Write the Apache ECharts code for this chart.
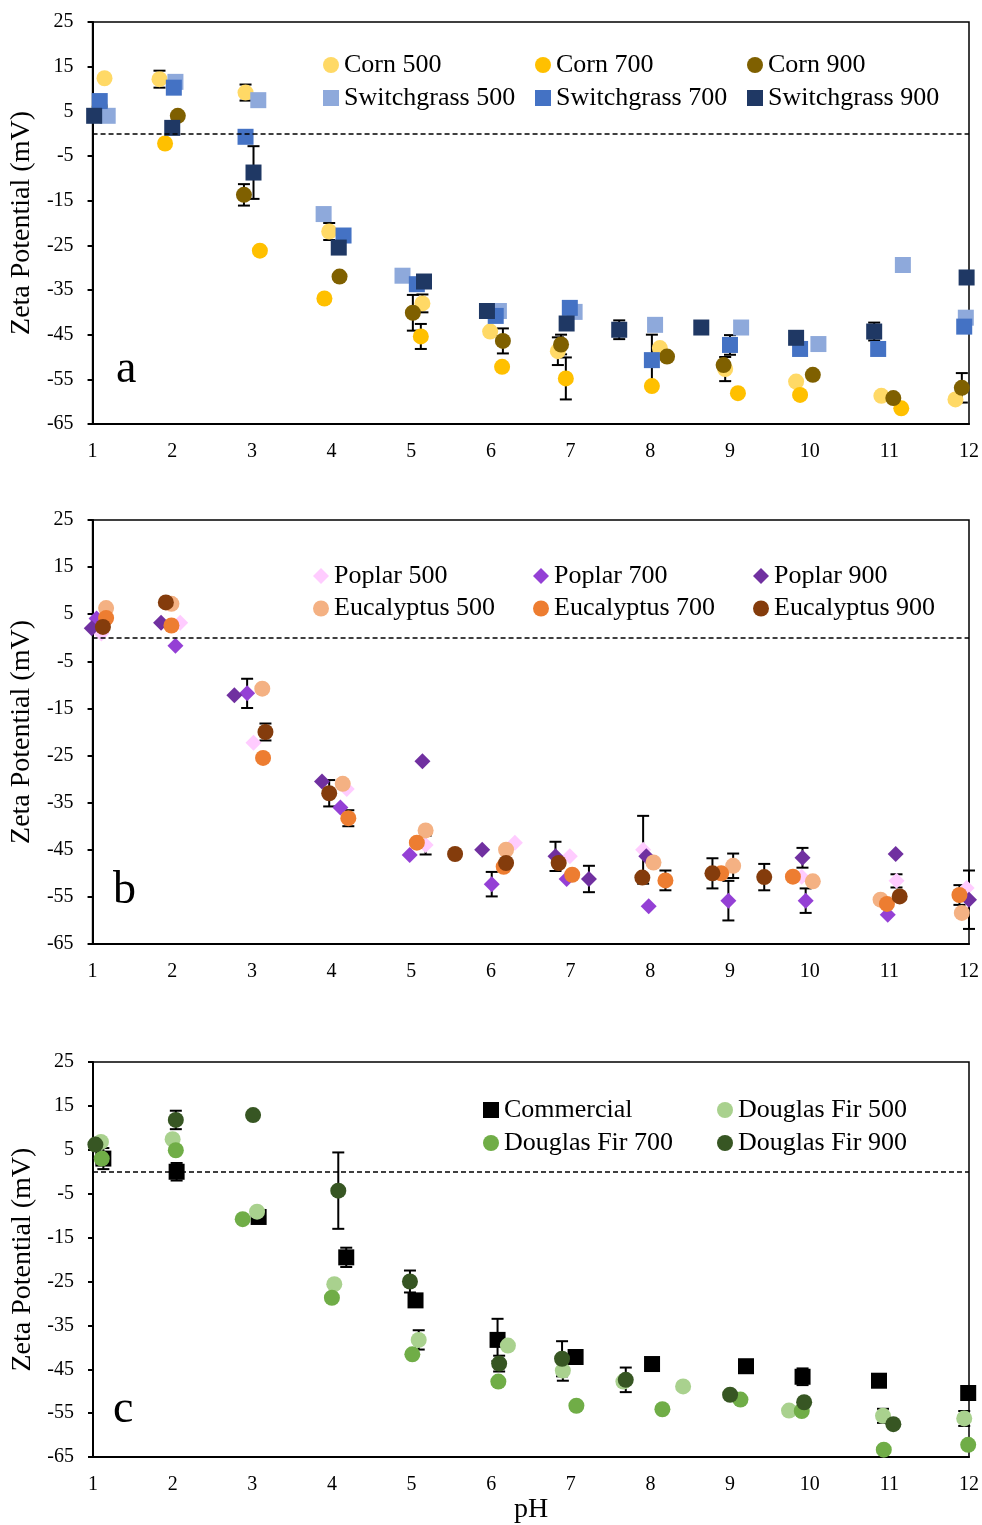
<!DOCTYPE html>
<html>
<head>
<meta charset="utf-8">
<script src="https://cdn.jsdelivr.net/npm/echarts@6/dist/echarts.min.js"></script>
<style>
  html, body { margin: 0; padding: 0; background: #fff; }
  #chart { width: 982px; height: 1525px; }
</style>
</head>
<body>
<div id="chart"></div>
<script>
/* Zeta potential vs pH — three stacked panels (a, b, c) */

// each point: [pH, zeta potential (mV), error (+/-, 0 = none)]
// panel a
const corn500 = [[1.15,12.4,0],[1.84,12.2,1.9],[2.92,9.2,1.8],[3.97,-21.9,1.9],[5.14,-38.0,2.0],[5.99,-44.3,0],[6.84,-48.7,3.1],[8.12,-48.0,0],[8.94,-52.7,2.7],[9.83,-55.5,0],[10.90,-58.7,0],[11.83,-59.5,0]];
const corn700 = [[1.91,-2.2,0],[3.10,-26.2,0],[3.91,-36.9,0],[5.12,-45.4,2.8],[6.14,-52.2,0.8],[6.94,-54.8,4.7],[8.02,-56.5,0],[9.10,-58.1,0],[9.88,-58.5,0],[11.15,-61.5,0]];
const corn900 = [[1.09,6.0,0],[2.07,4.0,0],[2.90,-13.7,2.4],[4.10,-32.0,0],[5.02,-40.1,4.0],[6.15,-46.4,2.8],[6.88,-47.2,2.2],[8.21,-49.9,0],[8.92,-51.8,0],[10.04,-54.0,0],[11.05,-59.2,0],[11.91,-56.9,3.3]];
const sw500 = [[1.19,4.0,0],[2.04,11.6,0],[3.08,7.5,0],[3.90,-18.0,0],[4.89,-31.8,0],[6.10,-39.7,0],[7.05,-39.9,0],[8.06,-42.8,0],[9.14,-43.4,0],[10.11,-47.1,0],[11.17,-29.4,0],[11.96,-41.2,0]];
const sw700 = [[1.09,7.3,0],[2.02,10.3,0],[2.92,-0.7,0],[4.15,-22.8,0],[5.07,-33.7,0],[6.06,-40.8,0],[6.99,-39.0,0],[8.02,-50.7,5.7],[9.00,-47.3,2.2],[9.88,-48.2,0],[10.86,-48.2,0],[11.94,-43.2,0]];
const sw900 = [[1.02,4.0,0],[2.00,1.3,0],[3.02,-8.7,5.9],[4.09,-25.5,0],[5.16,-33.1,0],[5.95,-39.7,0],[6.95,-42.5,0],[7.61,-43.9,2.1],[8.64,-43.4,0],[9.83,-45.7,0],[10.81,-44.3,2.0],[11.97,-32.2,0]];

// panel b
const poplar500 = [[1.11,0.9,0],[2.10,3.2,0],[3.02,-22.3,0],[4.19,-32.1,0],[5.18,-44.0,2.0],[6.30,-43.5,0],[6.99,-46.4,0],[7.91,-45.0,7.2],[9.90,-50.7,0],[11.09,-51.6,1.4],[11.97,-53.1,0]];
const poplar700 = [[1.05,4.1,0],[2.04,-1.7,0],[2.94,-11.8,3.1],[4.11,-36.0,0],[4.98,-46.1,0],[6.01,-52.3,2.6],[6.95,-51.2,0],[7.98,-57.0,0],[8.98,-55.8,4.2],[9.95,-55.8,2.6],[10.98,-58.8,0]];
const poplar900 = [[0.99,2.0,0],[1.86,3.2,0],[2.78,-12.2,0],[3.88,-30.5,0],[5.14,-26.2,0],[5.89,-45.0,0],[6.81,-46.4,3.1],[7.23,-51.2,2.8],[7.95,-46.4,0],[9.91,-46.7,2.1],[11.08,-45.9,0],[12.00,-55.6,6.2]];
const euc500 = [[1.17,6.3,0],[1.99,7.2,0],[3.13,-10.8,0.6],[4.14,-31.0,0],[5.18,-40.9,0],[6.19,-45.0,0],[8.04,-47.7,0],[9.04,-48.4,2.6],[10.04,-51.7,0],[10.89,-55.6,0],[11.91,-58.4,0]];
const euc700 = [[1.17,4.2,0],[1.99,2.6,0],[3.14,-25.5,0],[4.21,-38.3,1.7],[5.07,-43.5,0],[6.16,-48.6,0],[7.02,-50.3,0],[8.19,-51.5,2.1],[8.89,-50.0,0],[9.79,-50.7,0],[10.97,-56.5,0],[11.88,-54.6,2.1]];
const euc900 = [[1.13,2.3,0],[1.92,7.5,0],[3.17,-20.0,1.8],[3.97,-33.0,2.8],[5.55,-45.9,0],[6.19,-47.8,0],[6.85,-47.8,0],[7.90,-50.9,0],[8.78,-50.0,3.2],[9.43,-50.8,2.8],[11.13,-54.9,0]];

// panel c
const commercial = [[1.13,3.0,2.4],[2.05,0.0,2.0],[3.08,-10.3,0],[4.18,-19.5,2.2],[5.05,-29.3,0],[6.08,-38.3,4.8],[7.06,-42.2,0],[8.02,-43.8,0],[9.20,-44.3,0],[9.91,-46.7,1.9],[10.87,-47.6,0],[11.99,-50.4,1.0]];
const fir500 = [[1.10,6.8,0],[2.00,7.4,0],[3.06,-9.1,0],[4.03,-25.6,0],[5.09,-38.3,2.2],[6.21,-39.6,0],[6.90,-45.3,2.3],[7.66,-47.8,0],[8.41,-48.9,0],[9.74,-54.4,0],[10.92,-55.6,1.6],[11.94,-56.2,1.7]];
const fir700 = [[1.11,3.0,0],[2.04,4.9,0],[2.88,-10.8,0],[4.00,-28.7,0],[5.01,-41.6,0],[6.09,-47.8,0],[7.07,-53.3,0],[8.15,-54.1,0],[9.13,-51.9,0],[9.90,-54.5,0],[10.93,-63.3,0],[11.99,-62.2,0]];
const fir900 = [[1.03,6.2,0],[2.04,11.8,2.1],[3.01,12.9,0],[4.08,-4.3,8.7],[4.98,-25.0,2.5],[6.10,-43.7,1.8],[6.89,-42.6,4.0],[7.69,-47.4,2.8],[9.00,-50.8,0],[9.93,-52.5,0],[11.05,-57.5,0]];

const yTicks = { min: -65, max: 25, step: 10 };
const pHRange = { min: 1, max: 12, step: 1 };

const FONT = 'Liberation Serif';

const panelSeries = [
  [
    ['Corn 500', corn500, '#FFD966', 'circle'],
    ['Corn 700', corn700, '#FFC000', 'circle'],
    ['Corn 900', corn900, '#7F6000', 'circle'],
    ['Switchgrass 500', sw500, '#8EA9DB', 'rect'],
    ['Switchgrass 700', sw700, '#4472C4', 'rect'],
    ['Switchgrass 900', sw900, '#1F3864', 'rect']
  ],
  [
    ['Poplar 500', poplar500, '#FFCCFF', 'diamond'],
    ['Poplar 700', poplar700, '#9440D5', 'diamond'],
    ['Poplar 900', poplar900, '#7030A0', 'diamond'],
    ['Eucalyptus 500', euc500, '#F4B183', 'circle'],
    ['Eucalyptus 700', euc700, '#ED7D31', 'circle'],
    ['Eucalyptus 900', euc900, '#843C0C', 'circle']
  ],
  [
    ['Commercial', commercial, '#000000', 'rect'],
    ['Douglas Fir 500', fir500, '#A9D18E', 'circle'],
    ['Douglas Fir 700', fir700, '#70AD47', 'circle'],
    ['Douglas Fir 900', fir900, '#375623', 'circle']
  ]
];

const grids = [
  { left: 91, top: 22, width: 878, height: 402 },
  { left: 89, top: 520, width: 881, height: 424 },
  { left: 93, top: 1062, width: 878, height: 402 }
];

function errorBars(data, idx) {
  return {
    type: 'custom', xAxisIndex: idx, yAxisIndex: idx, z: 2, silent: true,
    data: data.filter(d => d[2] > 0).map(d => [d[0], d[1] - d[2], d[1] + d[2]]),
    encode: { x: 0, y: [1, 2] },
    renderItem: function (params, api) {
      const lo = api.coord([api.value(0), api.value(1)]);
      const hi = api.coord([api.value(0), api.value(2)]);
      const w = 6;
      const style = { stroke: '#000', lineWidth: 2 };
      return {
        type: 'group',
        children: [
          { type: 'line', shape: { x1: hi[0], y1: hi[1], x2: lo[0], y2: lo[1] }, style },
          { type: 'line', shape: { x1: hi[0] - w, y1: hi[1], x2: hi[0] + w, y2: hi[1] }, style },
          { type: 'line', shape: { x1: lo[0] - w, y1: lo[1], x2: lo[0] + w, y2: lo[1] }, style }
        ]
      };
    }
  };
}

const series = [];
panelSeries.forEach((list, idx) => {
  list.forEach(([name, data, color, symbol], k) => {
    series.push(errorBars(data, idx));
    const s = {
      name, type: 'scatter', xAxisIndex: idx, yAxisIndex: idx,
      symbol, symbolSize: 16, clip: false, z: 3,
      itemStyle: { color, opacity: 1 },
      data: data.map(d => [d[0], d[1]])
    };
    if (k === 0) {
      s.markLine = {
        silent: true, symbol: 'none', label: { show: false },
        lineStyle: { color: '#000', type: [5, 3], width: 1.5 },
        data: [{ yAxis: 0 }]
      };
    }
    series.push(s);
  });
});

const xAxes = grids.map((g, i) => ({
  gridIndex: i, type: 'value',
  min: pHRange.min, max: pHRange.max, interval: pHRange.step,
  name: i === 2 ? 'pH' : '', nameLocation: 'middle', nameGap: 35,
  nameTextStyle: { fontFamily: FONT, fontSize: 28, color: '#000' },
  axisLine: { onZero: false, lineStyle: { color: '#000', width: 2 } },
  axisTick: { show: false },
  splitLine: { show: false },
  axisLabel: { fontFamily: FONT, fontSize: 20, color: '#000', margin: 18 }
}));

const yAxes = grids.map((g, i) => ({
  gridIndex: i, type: 'value',
  min: yTicks.min, max: yTicks.max, interval: yTicks.step,
  name: 'Zeta Potential (mV)', nameLocation: 'middle', nameGap: 52,
  nameTextStyle: { fontFamily: FONT, fontSize: 28, color: '#000' },
  axisLine: { show: true, onZero: false, lineStyle: { color: '#000', width: 2 } },
  axisTick: { show: true, inside: false, length: 5, lineStyle: { color: '#000', width: 2 } },
  splitLine: { show: false },
  axisLabel: { fontFamily: FONT, fontSize: 20, color: '#000', margin: 19, padding: [4, 0, 0, 0] }
}));

const legendBase = {
  orient: 'vertical', padding: 0, itemWidth: 16, itemHeight: 16,
  selectedMode: false,
  textStyle: { fontFamily: FONT, fontSize: 26, color: '#000', lineHeight: 26 }
};
const legends = [
  { left: 323, top: 52, itemGap: 7, data: ['Corn 500', 'Switchgrass 500'] },
  { left: 535, top: 52, itemGap: 7, data: ['Corn 700', 'Switchgrass 700'] },
  { left: 747, top: 52, itemGap: 7, data: ['Corn 900', 'Switchgrass 900'] },
  { left: 313, top: 563, itemGap: 6.5, data: ['Poplar 500', 'Eucalyptus 500'] },
  { left: 533, top: 563, itemGap: 6.5, data: ['Poplar 700', 'Eucalyptus 700'] },
  { left: 753, top: 563, itemGap: 6.5, data: ['Poplar 900', 'Eucalyptus 900'] },
  { left: 483, top: 1097, itemGap: 7, data: ['Commercial', 'Douglas Fir 700'] },
  { left: 717, top: 1097, itemGap: 7, data: ['Douglas Fir 500', 'Douglas Fir 900'] }
].map(l => Object.assign({}, legendBase, l));

const letters = [['a', 116, 370], ['b', 113, 891], ['c', 113, 1410]].map(([t, x, y]) => ({
  type: 'text', x, y,
  style: { text: t, font: '46px "Liberation Serif"', fill: '#000', verticalAlign: 'middle' }
}));

const chart = echarts.init(document.getElementById('chart'), null, { renderer: 'canvas' });
chart.setOption({
  animation: false,
  backgroundColor: '#fff',
  grid: grids.map(g => Object.assign({ show: true, borderColor: '#000', borderWidth: 1.5 }, g)),
  xAxis: xAxes,
  yAxis: yAxes,
  legend: legends,
  graphic: letters,
  series
});
</script>
</body>
</html>
